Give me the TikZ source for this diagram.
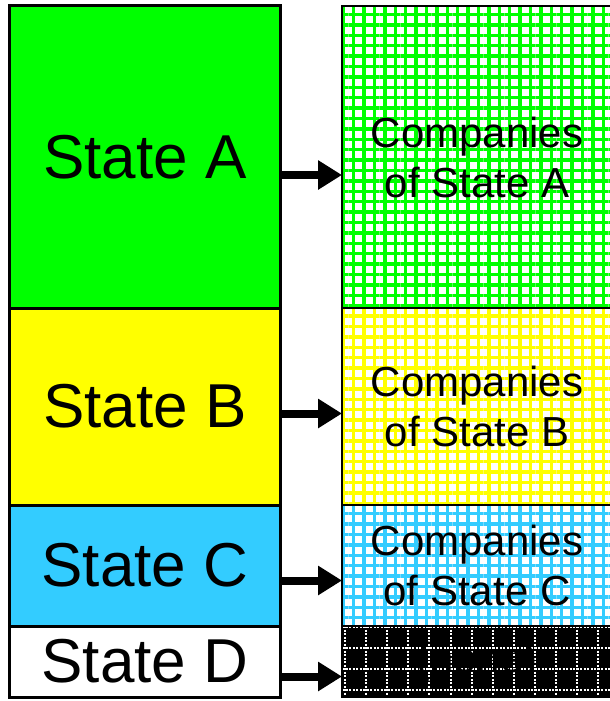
\documentclass[tikz,border=0pt]{standalone}
\usepackage{fontspec}
\setmainfont{Liberation Sans}
\usetikzlibrary{positioning,arrows.meta,patterns.meta}
\definecolor{stgreen}{RGB}{0,255,0}
\definecolor{styellow}{RGB}{255,255,0}
\definecolor{stcyan}{RGB}{51,204,255}
\tikzset{
  statebox/.style={rectangle, draw=black, line width=3pt, outer sep=0pt, inner sep=0pt,
    minimum width=271pt, font=\fontsize{62}{64}\selectfont},
  compbox/.style={rectangle, draw=black, line width=1.8pt, outer sep=0pt, inner sep=0pt,
    minimum width=270pt, align=center, font=\fontsize{42}{50}\selectfont,
    preaction={fill=white},
    preaction={pattern={Lines[angle=0,distance=10.4pt,line width=3.4pt]}, pattern color=#1},
    preaction={pattern={Lines[angle=90,distance=10.4pt,line width=3.4pt]}, pattern color=#1}},
  nonebox/.style={rectangle, draw=black, fill=black, line width=1.8pt, outer sep=0pt, inner sep=0pt,
    minimum width=270pt, font=\fontsize{42}{50}\selectfont,
    path picture={
      \foreach \gx in {0,...,13}
        \draw[gridline] ([xshift={3pt+21.1pt*\gx}]path picture bounding box.north west)
          -- ([xshift={3pt+21.1pt*\gx}]path picture bounding box.south west);
      \foreach \gy in {0,...,3}
        \draw[gridline] ([yshift={-1pt-21pt*\gy}]path picture bounding box.north west)
          -- ([yshift={-1pt-21pt*\gy}]path picture bounding box.north east);
    }},
  gridline/.style={white, line width=2pt, dash pattern=on 2pt off 1.5pt},
  arrow/.style={line width=8pt, -{Triangle[length=24pt,width=28pt]}},
}

\begin{document}
\begin{tikzpicture}[x=1pt, y=-1pt]
\useasboundingbox (0,0) rectangle (610,701);

% States
\node[statebox, fill=stgreen, minimum height=302pt, anchor=north west] (stateA) at (9.5,6) {State A};
\node[statebox, fill=styellow, minimum height=197pt, below=0pt of stateA] (stateB) {State B};
\node[statebox, fill=stcyan, minimum height=121pt, below=0pt of stateB] (stateC) {State C};
\node[statebox, fill=white, minimum height=71pt, below=0pt of stateC] (stateD) {State D};

% Companies
\node[compbox=stgreen, minimum height=302pt, anchor=north west] (compA) at (342,6) {Companies\\of State A};
\node[compbox=styellow, minimum height=197pt, below=0pt of compA] (compB) {Companies\\of State B};
\node[compbox=stcyan, minimum height=121pt, below=0pt of compB] (compC) {Companies\\of State C};
\node[nonebox, minimum height=71pt, below=0pt of compC] (compD) {(none)};

% Arrows
\draw[arrow] ([yshift=-18pt]stateA.east) -- ([yshift=-18pt]compA.west);
\draw[arrow] ([yshift=-7pt]stateB.east) -- ([yshift=-7pt]compB.west);
\draw[arrow] ([yshift=-15pt]stateC.east) -- ([yshift=-15pt]compC.west);
\draw[arrow] ([yshift=-15pt]stateD.east) -- ([yshift=-15pt]compD.west);
\end{tikzpicture}
\end{document}
